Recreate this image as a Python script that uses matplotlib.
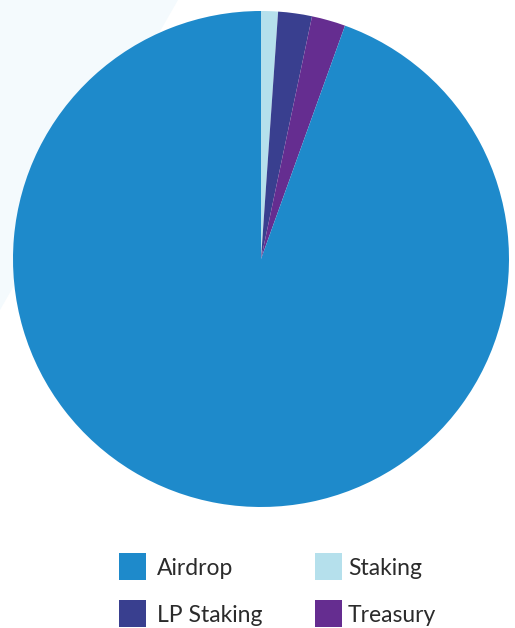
import matplotlib
matplotlib.use("Agg")
import matplotlib.pyplot as plt
from matplotlib.patches import Polygon, Rectangle

# token allocation (%), clockwise from the top
labels = ["Staking", "LP Staking", "Treasury", "Airdrop"]
values = [1.1, 2.2, 2.2, 94.5]
colors = ["#b5e0ec", "#393f8f", "#652d90", "#1e8acb"]

# legend order as it appears in the picture
legend_labels = ["Airdrop", "Staking", "LP Staking", "Treasury"]

W, H = 515, 628
fig = plt.figure(figsize=(W / 100, H / 100), dpi=100)
fig.patch.set_facecolor("white")

# faint background shape in the top-left corner
fig.patches.append(Polygon([(0, 1), (178 / W, 1), (0, 1 - 310 / H)],
                           closed=True, transform=fig.transFigure,
                           facecolor="#f4fafd", edgecolor="none", zorder=-5))

# pie
cx, cy, r = 261, 259, 248
ax = fig.add_axes([(cx - r) / W, 1 - (cy + r) / H, 2 * r / W, 2 * r / H])
ax.patch.set_alpha(0)
ax.pie(values, colors=colors, startangle=90, counterclock=False,
       wedgeprops=dict(linewidth=0))
ax.set_xlim(-1, 1)
ax.set_ylim(-1, 1)
ax.set_aspect("equal")
ax.axis("off")

# legend, drawn by hand in a 2x2 grid
col_x = [119, 315]
text_x = [157, 348]
row_y = [566, 613.5]
box = 27
color_of = dict(zip(labels, colors))
for i, lab in enumerate(legend_labels):
    x = col_x[i % 2]
    y = row_y[i // 2]
    fig.patches.append(Rectangle((x / W, 1 - (y + box / 2) / H), box / W, box / H,
                                 transform=fig.transFigure,
                                 facecolor=color_of[lab], edgecolor="none"))
    fig.text(text_x[i % 2] / W, 1 - (y + 9) / H, lab, fontsize=16.5, family="Lato",
             color="#2b2b2b", va="baseline", ha="left")

fig.savefig("out.png", dpi=100)
